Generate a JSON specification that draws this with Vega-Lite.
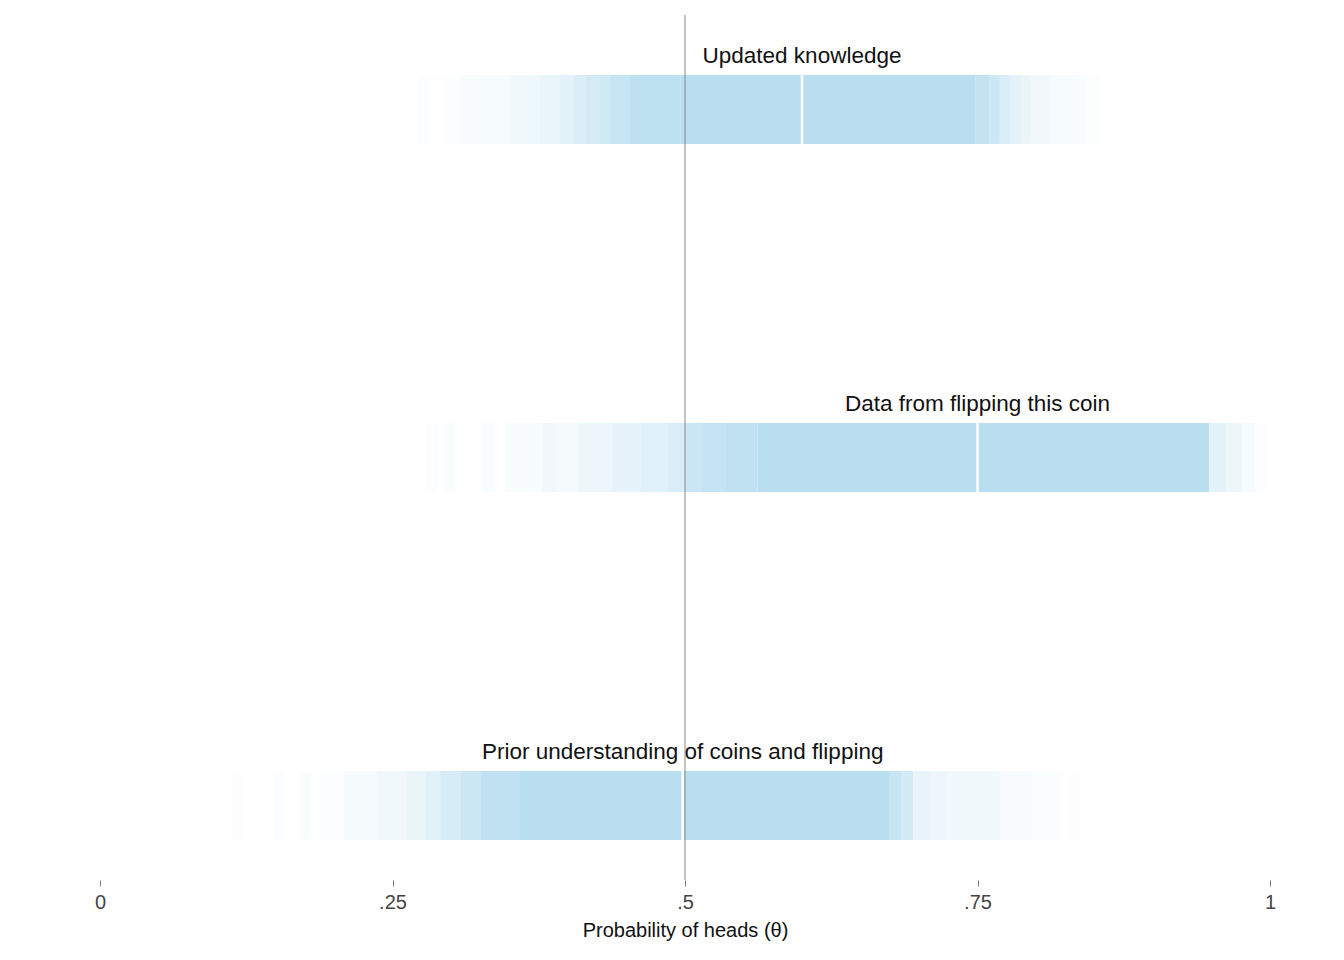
{
  "$schema": "https://vega.github.io/schema/vega-lite/v6.json",
  "width": 1170,
  "height": 865,
  "autosize": {"type": "none"},
  "padding": {"left": 100, "top": 15, "right": 74, "bottom": 80},
  "background": "white",
  "config": {
    "view": {"stroke": null},
    "font": "Liberation Sans",
    "axis": {"grid": false}
  },
  "datasets": {
    "segments": [
      {"dist": "Updated knowledge", "x": 0.272, "x2": 0.282, "o": 0.05},
      {"dist": "Updated knowledge", "x": 0.282, "x2": 0.295, "o": 0.02},
      {"dist": "Updated knowledge", "x": 0.295, "x2": 0.308, "o": 0.06},
      {"dist": "Updated knowledge", "x": 0.308, "x2": 0.325, "o": 0.1},
      {"dist": "Updated knowledge", "x": 0.325, "x2": 0.35, "o": 0.12},
      {"dist": "Updated knowledge", "x": 0.35, "x2": 0.366, "o": 0.18},
      {"dist": "Updated knowledge", "x": 0.366, "x2": 0.376, "o": 0.24},
      {"dist": "Updated knowledge", "x": 0.376, "x2": 0.393, "o": 0.3},
      {"dist": "Updated knowledge", "x": 0.393, "x2": 0.405, "o": 0.4},
      {"dist": "Updated knowledge", "x": 0.405, "x2": 0.415, "o": 0.5},
      {"dist": "Updated knowledge", "x": 0.415, "x2": 0.426, "o": 0.6},
      {"dist": "Updated knowledge", "x": 0.426, "x2": 0.436, "o": 0.68},
      {"dist": "Updated knowledge", "x": 0.436, "x2": 0.453, "o": 0.8},
      {"dist": "Updated knowledge", "x": 0.453, "x2": 0.496, "o": 0.92},
      {"dist": "Updated knowledge", "x": 0.496, "x2": 0.748, "o": 1},
      {"dist": "Updated knowledge", "x": 0.748, "x2": 0.76, "o": 0.85},
      {"dist": "Updated knowledge", "x": 0.76, "x2": 0.769, "o": 0.72},
      {"dist": "Updated knowledge", "x": 0.769, "x2": 0.778, "o": 0.55},
      {"dist": "Updated knowledge", "x": 0.778, "x2": 0.787, "o": 0.4},
      {"dist": "Updated knowledge", "x": 0.787, "x2": 0.795, "o": 0.3},
      {"dist": "Updated knowledge", "x": 0.795, "x2": 0.812, "o": 0.2},
      {"dist": "Updated knowledge", "x": 0.812, "x2": 0.829, "o": 0.13},
      {"dist": "Updated knowledge", "x": 0.829, "x2": 0.842, "o": 0.09},
      {"dist": "Updated knowledge", "x": 0.842, "x2": 0.855, "o": 0.04},

      {"dist": "Data from flipping this coin", "x": 0.278, "x2": 0.288, "o": 0.05},
      {"dist": "Data from flipping this coin", "x": 0.293, "x2": 0.303, "o": 0.07},
      {"dist": "Data from flipping this coin", "x": 0.327, "x2": 0.338, "o": 0.08},
      {"dist": "Data from flipping this coin", "x": 0.346, "x2": 0.378, "o": 0.1},
      {"dist": "Data from flipping this coin", "x": 0.378, "x2": 0.389, "o": 0.18},
      {"dist": "Data from flipping this coin", "x": 0.389, "x2": 0.409, "o": 0.14},
      {"dist": "Data from flipping this coin", "x": 0.409, "x2": 0.438, "o": 0.25},
      {"dist": "Data from flipping this coin", "x": 0.438, "x2": 0.462, "o": 0.35},
      {"dist": "Data from flipping this coin", "x": 0.462, "x2": 0.485, "o": 0.42},
      {"dist": "Data from flipping this coin", "x": 0.485, "x2": 0.5, "o": 0.55},
      {"dist": "Data from flipping this coin", "x": 0.5, "x2": 0.513, "o": 0.75},
      {"dist": "Data from flipping this coin", "x": 0.513, "x2": 0.535, "o": 0.82},
      {"dist": "Data from flipping this coin", "x": 0.535, "x2": 0.562, "o": 0.9},
      {"dist": "Data from flipping this coin", "x": 0.562, "x2": 0.948, "o": 1},
      {"dist": "Data from flipping this coin", "x": 0.948, "x2": 0.962, "o": 0.4},
      {"dist": "Data from flipping this coin", "x": 0.962, "x2": 0.976, "o": 0.25},
      {"dist": "Data from flipping this coin", "x": 0.976, "x2": 0.987, "o": 0.12},
      {"dist": "Data from flipping this coin", "x": 0.987, "x2": 0.997, "o": 0.06},

      {"dist": "Prior understanding of coins and flipping", "x": 0.113, "x2": 0.122, "o": 0.04},
      {"dist": "Prior understanding of coins and flipping", "x": 0.148, "x2": 0.158, "o": 0.06},
      {"dist": "Prior understanding of coins and flipping", "x": 0.171, "x2": 0.181, "o": 0.07},
      {"dist": "Prior understanding of coins and flipping", "x": 0.188, "x2": 0.209, "o": 0.05},
      {"dist": "Prior understanding of coins and flipping", "x": 0.209, "x2": 0.237, "o": 0.14},
      {"dist": "Prior understanding of coins and flipping", "x": 0.237, "x2": 0.262, "o": 0.2},
      {"dist": "Prior understanding of coins and flipping", "x": 0.262, "x2": 0.278, "o": 0.3},
      {"dist": "Prior understanding of coins and flipping", "x": 0.278, "x2": 0.291, "o": 0.42},
      {"dist": "Prior understanding of coins and flipping", "x": 0.291, "x2": 0.308, "o": 0.58},
      {"dist": "Prior understanding of coins and flipping", "x": 0.308, "x2": 0.325, "o": 0.72},
      {"dist": "Prior understanding of coins and flipping", "x": 0.325, "x2": 0.359, "o": 0.9},
      {"dist": "Prior understanding of coins and flipping", "x": 0.359, "x2": 0.675, "o": 1},
      {"dist": "Prior understanding of coins and flipping", "x": 0.675, "x2": 0.685, "o": 0.8},
      {"dist": "Prior understanding of coins and flipping", "x": 0.685, "x2": 0.695, "o": 0.6},
      {"dist": "Prior understanding of coins and flipping", "x": 0.695, "x2": 0.71, "o": 0.32},
      {"dist": "Prior understanding of coins and flipping", "x": 0.71, "x2": 0.724, "o": 0.25},
      {"dist": "Prior understanding of coins and flipping", "x": 0.724, "x2": 0.769, "o": 0.18},
      {"dist": "Prior understanding of coins and flipping", "x": 0.769, "x2": 0.797, "o": 0.11},
      {"dist": "Prior understanding of coins and flipping", "x": 0.797, "x2": 0.822, "o": 0.07},
      {"dist": "Prior understanding of coins and flipping", "x": 0.829, "x2": 0.838, "o": 0.04}
    ],
    "medians": [
      {"dist": "Updated knowledge", "median": 0.6},
      {"dist": "Data from flipping this coin", "median": 0.75},
      {"dist": "Prior understanding of coins and flipping", "median": 0.498}
    ],
    "reference": [
      {"theta": 0.5}
    ]
  },
  "layer": [
    {
      "data": {"name": "segments"},
      "mark": {"type": "rect", "color": "#b8def0"},
      "encoding": {
        "x": {
          "field": "x", "type": "quantitative",
          "scale": {"domain": [0, 1], "nice": false, "zero": false},
          "axis": {
            "values": [0, 0.25, 0.5, 0.75, 1],
            "format": ".2~f",
            "labelExpr": "replace(datum.label, '0.', '.')",
            "labelFlush": false,
            "domain": false,
            "ticks": true,
            "tickSize": 6,
            "tickColor": "#777",
            "tickWidth": 1,
            "labelFontSize": 20,
            "labelColor": "#444",
            "labelPadding": 6,
            "title": "Probability of heads (θ)",
            "titleFontSize": 20,
            "titleFontWeight": "normal",
            "titleColor": "#111",
            "titlePadding": 8
          }
        },
        "x2": {"field": "x2"},
        "y": {
          "field": "dist", "type": "nominal",
          "sort": ["Updated knowledge", "Data from flipping this coin", "Prior understanding of coins and flipping"],
          "scale": {"paddingInner": 0.802, "paddingOuter": 0.1438, "align": 0.6},
          "axis": null
        },
        "opacity": {"field": "o", "type": "quantitative", "scale": null, "legend": null}
      }
    },
    {
      "data": {"name": "medians"},
      "mark": {"type": "tick", "color": "white", "thickness": 2.5, "size": 69, "opacity": 1},
      "encoding": {
        "x": {"field": "median", "type": "quantitative"},
        "y": {"field": "dist", "type": "nominal", "sort": ["Updated knowledge", "Data from flipping this coin", "Prior understanding of coins and flipping"]}
      }
    },
    {
      "data": {"name": "medians"},
      "mark": {"type": "text", "fontSize": 22.5, "color": "#111", "align": "center", "baseline": "alphabetic", "dy": -46.5},
      "encoding": {
        "x": {"field": "median", "type": "quantitative"},
        "y": {"field": "dist", "type": "nominal", "sort": ["Updated knowledge", "Data from flipping this coin", "Prior understanding of coins and flipping"]},
        "text": {"field": "dist"}
      }
    },
    {
      "data": {"name": "reference"},
      "mark": {"type": "rule", "color": "#888", "strokeWidth": 1},
      "encoding": {"x": {"field": "theta", "type": "quantitative"}}
    }
  ]
}
